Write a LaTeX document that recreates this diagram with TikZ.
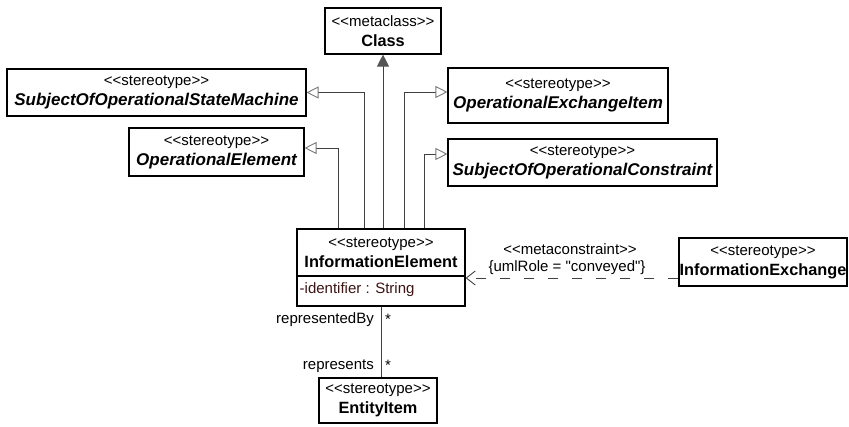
\documentclass[tikz,border=0pt]{standalone}
\usepackage{fontspec}
\newfontfamily\uifont{Liberation Sans}
\usetikzlibrary{arrows.meta}
\definecolor{linecol}{RGB}{64,64,64}
\definecolor{headcol}{RGB}{120,120,120}
\definecolor{implcol}{RGB}{85,85,85}
\definecolor{attrcol}{RGB}{60,20,20}
\newcommand\lsg{<\kern0pt<}
\newcommand\gsg{>\kern0pt>}
\newcommand\bname[1]{{\fontsize{17}{20}\selectfont\bfseries\itshape #1}}
\newcommand\cname[1]{{\fontsize{16.3}{20}\selectfont\bfseries #1}}
\begin{document}
\begin{tikzpicture}[x=1pt,y=-1pt,
  every node/.style={font=\uifont\fontsize{15}{20}\selectfont, inner sep=0pt},
  box/.style={draw=black, line width=1.1pt, fill=white, align=center},
  conn/.style={draw=linecol, line width=0.9pt},
  genl/.style={conn, -{Triangle[open, length=12pt, width=12pt, line width=0.9pt, color=headcol]}},
  impl/.style={conn, -{Triangle[length=12pt, width=12pt, color=implcol, fill=implcol]}},
  dep/.style={conn, dash pattern=on 10pt off 14pt, -{Straight Barb[length=9pt, width=14pt, line width=0.9pt]}},
  lbl/.style={align=center}
]
\useasboundingbox (0,0) rectangle (849,426);

% classes
\node[box, minimum width=116pt, minimum height=46pt] (cls) at (383,31) {\lsg metaclass\gsg\\\cname{Class}};
\node[box, minimum width=299pt, minimum height=47pt] (sosm) at (156.5,92.5) {\lsg stereotype\gsg\\\bname{SubjectOfOperationalStateMachine}};
\node[box, minimum width=175pt, minimum height=48pt] (oe) at (216.5,152) {\lsg stereotype\gsg\\\bname{OperationalElement}};
\node[box, minimum width=220pt, minimum height=55pt] (oei) at (558,95.5) {\lsg stereotype\gsg\\\bname{OperationalExchangeItem}};
\node[box, minimum width=269pt, minimum height=47pt] (sooc) at (582.5,162.5) {\lsg stereotype\gsg\\\bname{SubjectOfOperationalConstraint}};
\node[box, minimum width=168pt, minimum height=77pt] (ie) at (381,267.5) {};
\node[lbl] (ieh) at (381,252.5) {\lsg stereotype\gsg\\\cname{InformationElement}};
\draw[line width=1.1pt] (ie.west |- 0,276) -- (ie.east |- 0,276);
\node[anchor=west, text=attrcol] (iea) at (299.5,290) {-identifier : String};
\node[box, minimum width=168pt, minimum height=48pt] (ix) at (763,262) {\lsg stereotype\gsg\\\cname{InformationExchange}};
\node[box, minimum width=118pt, minimum height=45pt] (ei) at (378,400.5) {\lsg stereotype\gsg\\\cname{EntityItem}};

% generalizations
\draw[impl] (ie.north -| cls.south) -- (cls.south);
\draw[genl] ([xshift=-43pt]ie.north) |- ([yshift=4pt]oe.east);
\draw[genl] ([xshift=-17pt]ie.north) |- (sosm.east);
\draw[genl] ([xshift=23pt]ie.north) |- ([yshift=3.5pt]oei.west);
\draw[genl] ([xshift=43pt]ie.north) |- ([yshift=8.5pt]sooc.west);

% dependency
\coordinate (dstart) at ([yshift=-16pt]ix.west);
\draw[dep] (dstart) -- (dstart -| ie.east);
\node (mc) at (570,249) {\lsg metaconstraint\gsg};
\node (role) at (567,268) {\{umlRole = "conveyed"\}};

% association
\draw[conn] (ie.south) -- (ie.south |- ei.north);
\node[anchor=east] (rb) at (374,320) {representedBy};
\node[anchor=west] (m1) at (385,319) {*};
\node[anchor=east] (rp) at (374,366) {represents};
\node[anchor=west] (m2) at (385,365) {*};
\end{tikzpicture}
\end{document}
